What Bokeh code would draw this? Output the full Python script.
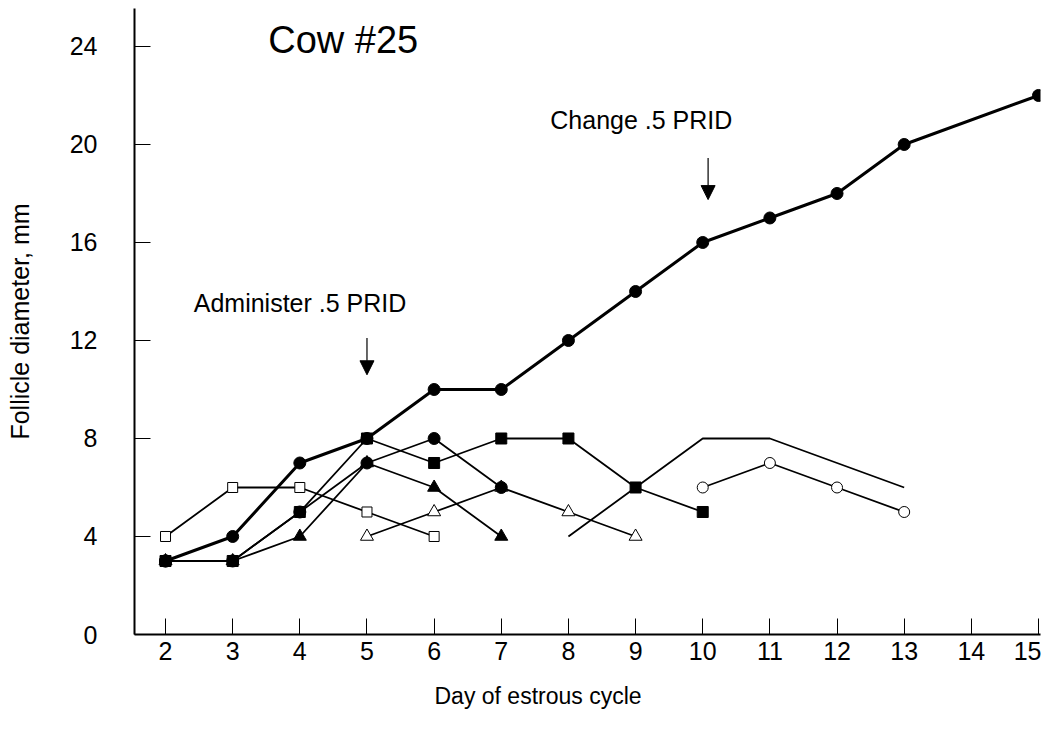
from bokeh.plotting import figure
from bokeh.models import Range1d, Label, Arrow, NormalHead, FixedTicker, Title
from bokeh.embed import file_html
from bokeh.resources import INLINE

# ---- data ----
main_days = [2, 3, 4, 5, 6, 7, 8, 9, 10, 11, 12, 13, 15]
main_diam = [3, 4, 7, 8, 10, 10, 12, 14, 16, 17, 18, 20, 22]

opensq_days = [2, 3, 4, 5, 6]
opensq_diam = [4, 6, 6, 5, 4]

fillsq_days = [2, 3, 4, 5, 6, 7, 8, 9, 10]
fillsq_diam = [3, 3, 5, 8, 7, 8, 8, 6, 5]

filltri_days = [2, 3, 4, 5, 6, 7]
filltri_diam = [3, 3, 4, 7, 6, 4]

fillcirc_days = [2, 3, 4, 5, 6, 7]
fillcirc_diam = [3, 3, 5, 7, 8, 6]

opentri_days = [5, 6, 7, 8, 9]
opentri_diam = [4, 5, 6, 5, 4]

plain_days = [8, 9, 10, 11, 13]
plain_diam = [4, 6, 8, 8, 6]

opencirc_days = [10, 11, 12, 13]
opencirc_diam = [6, 7, 6, 5]

x_ticks = list(range(2, 16))
y_ticks = [0, 4, 8, 12, 16, 20, 24]

x_title = "Day of estrous cycle"
y_title = "Follicle diameter, mm"

title_text = "Cow #25"
title_pos = (3.53, 24.25)
ann1_text = "Administer .5 PRID"
ann1_pos = (2.42, 13.55)
ann1_arrow = (5.0, 12.1, 5.0, 10.6)
ann2_text = "Change .5 PRID"
ann2_pos = (7.73, 21.0)
ann2_arrow = (10.08, 19.45, 10.08, 17.75)

FONT = "Liberation Sans"

p = figure(width=1041, height=728,
           x_range=Range1d(1.538, 15.03), y_range=Range1d(0, 25.55),
           output_backend="svg", toolbar_location=None,
           min_border_left=134, min_border_right=1,
           min_border_top=8, min_border_bottom=94)
p.outline_line_color = None
p.xgrid.grid_line_color = None
p.ygrid.grid_line_color = None
p.background_fill_color = "white"
p.border_fill_color = "white"

for ax in (p.xaxis[0], p.yaxis[0]):
    ax.axis_line_width = 2
    ax.axis_line_color = "black"
    ax.major_tick_in = 16
    ax.major_tick_out = 0
    ax.major_tick_line_width = 1
    ax.major_tick_line_color = "black"
    ax.minor_tick_line_color = None
    ax.major_label_text_font = FONT
    ax.major_label_text_font_size = "25px"
    ax.major_label_text_color = "black"
    ax.axis_label_text_font = FONT
    ax.axis_label_text_font_style = "normal"
    ax.axis_label_text_color = "black"

p.xaxis.ticker = FixedTicker(ticks=x_ticks)
p.yaxis.ticker = FixedTicker(ticks=y_ticks)
p.yaxis.axis_label = y_title
p.yaxis.axis_label_text_font_size = "25px"
p.xaxis.major_label_standoff = 7
p.yaxis.major_label_standoff = 37
p.yaxis.axis_label_standoff = 33

# x-axis title, placed left of centre as in the reference
p.add_layout(Title(text=x_title, align="left", offset=300, standoff=37,
                   text_font=FONT, text_font_size="23px",
                   text_font_style="normal", text_color="black"), "below")

thin = 1.8
# lines
p.line(opensq_days, opensq_diam, line_color="black", line_width=thin)
p.line(fillsq_days, fillsq_diam, line_color="black", line_width=thin)
p.line(filltri_days, filltri_diam, line_color="black", line_width=thin)
p.line(fillcirc_days, fillcirc_diam, line_color="black", line_width=thin)
p.line(opentri_days, opentri_diam, line_color="black", line_width=thin)
p.line(plain_days, plain_diam, line_color="black", line_width=thin)
p.line(opencirc_days, opencirc_diam, line_color="black", line_width=thin)
p.line(main_days, main_diam, line_color="black", line_width=3)

# markers
p.scatter(opensq_days, opensq_diam, marker="square", size=10,
          fill_color="white", line_color="black", line_width=1)
p.scatter(opentri_days, opentri_diam, marker="triangle", size=13,
          fill_color="white", line_color="black", line_width=1)
p.scatter(opencirc_days, opencirc_diam, marker="circle", size=11,
          fill_color="white", line_color="black", line_width=1)
p.scatter(fillsq_days, fillsq_diam, marker="square", size=11,
          fill_color="black", line_color="black")
p.scatter(filltri_days, filltri_diam, marker="triangle", size=13,
          fill_color="black", line_color="black")
p.scatter(fillcirc_days, fillcirc_diam, marker="circle", size=12,
          fill_color="black", line_color="black")
p.scatter(main_days, main_diam, marker="circle", size=12,
          fill_color="black", line_color="black")

# annotations
p.add_layout(Label(x=title_pos[0], y=title_pos[1], text=title_text,
                   text_font=FONT, text_font_size="38px",
                   text_baseline="alphabetic", text_color="black"))
p.add_layout(Label(x=ann1_pos[0], y=ann1_pos[1], text=ann1_text,
                   text_font=FONT, text_font_size="25px",
                   text_baseline="alphabetic", text_color="black"))
p.add_layout(Label(x=ann2_pos[0], y=ann2_pos[1], text=ann2_text,
                   text_font=FONT, text_font_size="25px",
                   text_baseline="alphabetic", text_color="black"))
for (xs, ys, xe, ye) in (ann1_arrow, ann2_arrow):
    p.add_layout(Arrow(end=NormalHead(size=14, fill_color="black",
                                      line_color="black", line_width=1),
                       x_start=xs, y_start=ys, x_end=xe, y_end=ye,
                       line_color="black", line_width=1.2))

open("out.html", "w").write(file_html(p, INLINE))
